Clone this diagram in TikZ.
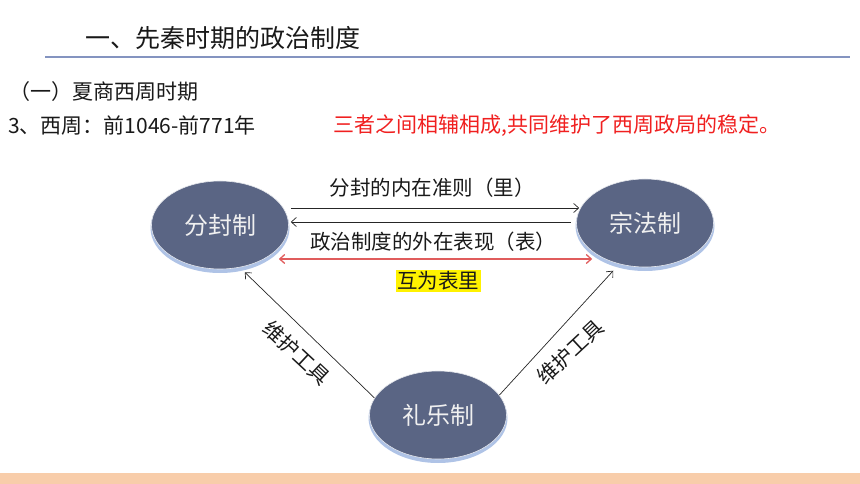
\documentclass[tikz,border=0pt]{standalone}
\usepackage{fontspec}
\setmainfont{Noto Sans CJK SC}
\usetikzlibrary{shapes.geometric,arrows.meta,calc}
\definecolor{ellfill}{HTML}{5A6584}
\definecolor{ellglow}{HTML}{AFC3E6}
\definecolor{rulecol}{HTML}{8494C0}
\definecolor{bandcol}{HTML}{F8CDAA}
\definecolor{redtxt}{HTML}{F02020}
\definecolor{redarrow}{HTML}{E05C5C}
\tikzset{
  sysnode/.style={ellipse, fill=ellfill, draw=white!85!ellfill, line width=0.6pt,
    minimum width=137pt, minimum height=88pt, inner sep=0pt,
    text=white!94!black, font=\fontsize{24}{24}\selectfont},
  glownode/.style={ellipse, fill=ellglow, minimum width=139pt, minimum height=90pt, inner sep=0pt},
  lbl/.style={font=\fontsize{20.5}{21}\selectfont, text=black!90, inner sep=0pt},
  txt/.style={font=\fontsize{21}{21}\selectfont, text=black!90, inner sep=0pt, anchor=west},
  thinarrow/.style={-{Straight Barb[length=5pt,width=9pt]}, line width=0.7pt, black!85},
}
\begin{document}
\begin{tikzpicture}[x=1pt,y=-1pt]
\useasboundingbox (0,0) rectangle (860,484);
% bottom band
\fill[bandcol] (0,473) rectangle (860,484);
% title and rule
\node[txt, font=\fontsize{25}{25}\selectfont] (title) at (85,38) {一、先秦时期的政治制度};
\draw[rulecol, line width=1.2pt] (45,57) -- (850,57);
\node[txt] (sub1) at (9,92) {（一）夏商西周时期};
\node[txt] (sub2) at (8,126) {3、西周：前1046-前771年};
\node[txt, text=redtxt] (note) at (333,126) {三者之间相辅相成,共同维护了西周政局的稳定。};
% glows
\node[glownode] at (220,228) {};
\node[glownode] at (645,226) {};
\node[glownode] at (438,418) {};
% nodes
\node[sysnode] (fen) at (220,225) {分封制};
\node[sysnode] (zong) at (645,223) {宗法制};
\node[sysnode] (li) at (438,415) {礼乐制};
% horizontal connectors
\draw[thinarrow] ([xshift=2pt]fen.east |- 0,208) -- ([xshift=3pt]zong.west |- 0,208)
  node[lbl, midway, above=10pt, xshift=-3pt] (l1) {分封的内在准则（里）};
\draw[thinarrow] ([xshift=-5pt]zong.west |- 0,222) -- ([xshift=2pt]fen.east |- 0,222)
  node[lbl, midway, below=10pt, xshift=2pt] (l2) {政治制度的外在表现（表）};
\draw[{Straight Barb[length=5pt,width=9pt]}-{Straight Barb[length=5pt,width=9pt]}, redarrow, line width=1.3pt]
  ([xshift=-10pt]fen.east |- 0,259) -- ([xshift=16pt]zong.west |- 0,259);
\node[lbl, fill=yellow, inner sep=1.5pt, font=\fontsize{20.5}{21}\selectfont] (hu) at (438,281) {互为表里};
% diagonal connectors
\draw[thinarrow, shorten >=7pt] (li.165) -- (fen.295);
\draw[thinarrow, shorten >=9pt] (li.18) -- (zong.238);
\node[lbl, rotate=-43] (w1) at (297,353) {维护工具};
\node[lbl, rotate=43] (w2) at (570,352) {维护工具};
\end{tikzpicture}
\end{document}
